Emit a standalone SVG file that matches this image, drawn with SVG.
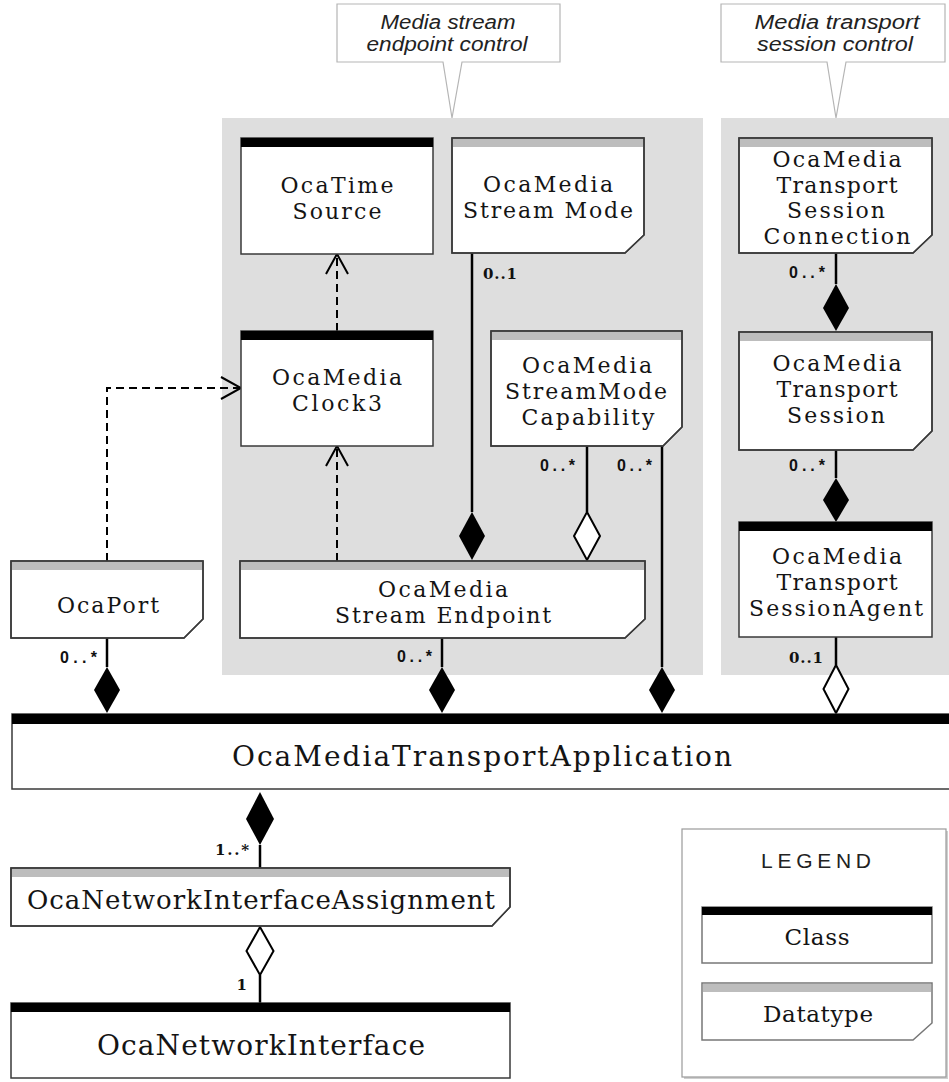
<svg xmlns="http://www.w3.org/2000/svg" width="949" height="1082" viewBox="0 0 949 1082">
  <style>
    .box { fill: #fff; stroke: #3a3a3a; stroke-width: 1.5; }
    .bar-class { fill: #000; }
    .bar-dt { fill: #bdbdbd; }
    .lbl { font-family: "DejaVu Serif", "Liberation Serif", serif; font-size: 22px; fill: #141414; text-anchor: middle; }
    .big { font-size: 28px; }
    .mid { font-size: 26px; }
    .leg { font-size: 23px; }
    .mult { font-family: "Liberation Sans", Arial, sans-serif; font-weight: bold; font-size: 16px; fill: #111; text-anchor: end; }
    .mults { font-family: "DejaVu Serif", serif; font-weight: bold; font-size: 15px; fill: #111; text-anchor: end; }
    .note { fill: #fff; stroke: #b5b5b5; stroke-width: 1.2; }
    .note-txt { font-family: "Liberation Sans", Arial, sans-serif; font-style: italic; font-size: 20px; fill: #222; text-anchor: middle; }
    .panel { fill: #dedede; }
    .wire { stroke: #000; stroke-width: 2.5; fill: none; }
    .dash { stroke: #000; stroke-width: 2; fill: none; stroke-dasharray: 8 5; }
    .comp { fill: #000; }
    .aggr { fill: #fff; stroke: #000; stroke-width: 2; }
    .legend-title { font-family: "Liberation Sans", Arial, sans-serif; font-size: 21px; fill: #222; text-anchor: middle; }
  </style>
  <defs>
    <marker id="open-arrow" viewBox="0 0 24 24" refX="22" refY="12" markerWidth="24" markerHeight="24" orient="auto" markerUnits="userSpaceOnUse">
      <path d="M2,1 L22,12 L2,23" fill="none" stroke="#000" stroke-width="2"/>
    </marker>
  </defs>

  <rect width="949" height="1082" fill="#fff"/>

  <!-- grouping panels -->
  <g id="panels">
    <rect class="panel" x="222" y="118" width="481" height="557"/>
    <rect class="panel" x="721" y="118" width="228" height="557"/>
  </g>

  <!-- callout notes -->
  <g id="note-stream">
    <path class="note" d="M337,4 H560 V62 H462 L452,118 L443,62 H337 Z"/>
    <text class="note-txt" x="448" y="29" textLength="135" lengthAdjust="spacingAndGlyphs">Media stream</text>
    <text class="note-txt" x="447" y="51" textLength="161" lengthAdjust="spacingAndGlyphs">endpoint control</text>
  </g>
  <g id="note-transport">
    <path class="note" d="M721,4 H945 V62 H846 L836,118 L827,62 H721 Z"/>
    <text class="note-txt" x="837" y="29" textLength="165" lengthAdjust="spacingAndGlyphs">Media transport</text>
    <text class="note-txt" x="835" y="51" textLength="156" lengthAdjust="spacingAndGlyphs">session control</text>
  </g>

  <!-- connectors -->
  <g id="connectors">
    <!-- dependencies -->
    <path class="dash" d="M107,561 V388 H241" marker-end="url(#open-arrow)"/>
    <path class="dash" d="M337,331 V254" marker-end="url(#open-arrow)"/>
    <path class="dash" d="M337,561 V446" marker-end="url(#open-arrow)"/>

    <!-- stream mode to endpoint -->
    <path class="wire" d="M472,253 V512"/>
    <polygon class="comp" points="472,512 485,536 472,560 459,536"/>
    <!-- capability to endpoint -->
    <path class="wire" d="M587,446 V512"/>
    <polygon class="aggr" points="587,512 600,536 587,560 574,536"/>
    <!-- capability to application -->
    <path class="wire" d="M662,446 V667"/>
    <polygon class="comp" points="662,667 675,690 662,713 649,690"/>
    <!-- endpoint to application -->
    <path class="wire" d="M442,638 V667"/>
    <polygon class="comp" points="442,667 455,690 442,713 429,690"/>
    <!-- port to application -->
    <path class="wire" d="M107,638 V667"/>
    <polygon class="comp" points="107,667 120,690 107,713 94,690"/>

    <!-- transport session chain -->
    <path class="wire" d="M836,253 V284"/>
    <polygon class="comp" points="836,284 849,308 836,331 823,308"/>
    <path class="wire" d="M836,450 V478"/>
    <polygon class="comp" points="836,478 849,500 836,522 823,500"/>
    <path class="wire" d="M836,637 V665"/>
    <polygon class="aggr" points="836,665 848.5,689 836,713 823.5,689"/>

    <!-- application to network interface assignment -->
    <polygon class="comp" points="260,792 274,819 260,845 246,819"/>
    <path class="wire" d="M260,845 V868"/>
    <!-- assignment to network interface -->
    <polygon class="aggr" points="260,927 273.5,951 260,975 246.5,951"/>
    <path class="wire" d="M260,975 V1003"/>

    <!-- multiplicities -->
    <text class="mults" x="517" y="279" textLength="34" lengthAdjust="spacing">0..1</text>
    <text class="mult" x="825" y="278" textLength="36" lengthAdjust="spacing">0..*</text>
    <text class="mult" x="825" y="471" textLength="36" lengthAdjust="spacing">0..*</text>
    <text class="mults" x="823" y="663" textLength="34" lengthAdjust="spacing">0..1</text>
    <text class="mult" x="575" y="471" textLength="35" lengthAdjust="spacing">0..*</text>
    <text class="mult" x="652" y="471" textLength="35" lengthAdjust="spacing">0..*</text>
    <text class="mult" x="97" y="663" textLength="37" lengthAdjust="spacing">0..*</text>
    <text class="mult" x="432" y="662" textLength="35" lengthAdjust="spacing">0..*</text>
    <text class="mults" x="249" y="855" textLength="34" lengthAdjust="spacing">1..*</text>
    <text class="mults" x="247" y="990">1</text>
  </g>

  <!-- classes and datatypes -->
  <g id="OcaTimeSource">
    <rect class="box" x="241" y="138" width="192" height="116"/>
    <rect class="bar-class" x="241" y="138" width="192" height="9"/>
    <text class="lbl" x="337" y="193" textLength="113" lengthAdjust="spacing">OcaTime</text>
    <text class="lbl" x="337" y="219" textLength="89" lengthAdjust="spacing">Source</text>
  </g>

  <g id="OcaMediaStreamMode">
    <path class="box" d="M452,138 H644 V235 L625,253 H452 Z"/>
    <rect class="bar-dt" x="453" y="139" width="190" height="8"/>
    <path d="M452,138 H644 V235 L625,253 H452 Z" fill="none" stroke="#3a3a3a" stroke-width="1.5"/>
    <text class="lbl" x="548" y="192" textLength="130" lengthAdjust="spacing">OcaMedia</text>
    <text class="lbl" x="548" y="218" textLength="170" lengthAdjust="spacing">Stream Mode</text>
  </g>

  <g id="OcaMediaClock3">
    <rect class="box" x="241" y="331" width="192" height="115"/>
    <rect class="bar-class" x="241" y="331" width="192" height="9"/>
    <text class="lbl" x="337" y="385" textLength="130" lengthAdjust="spacing">OcaMedia</text>
    <text class="lbl" x="337" y="411" textLength="90" lengthAdjust="spacing">Clock3</text>
  </g>

  <g id="OcaMediaStreamModeCapability">
    <path class="box" d="M491,331 H682 V427 L663,446 H491 Z"/>
    <rect class="bar-dt" x="492" y="332" width="189" height="8"/>
    <path d="M491,331 H682 V427 L663,446 H491 Z" fill="none" stroke="#3a3a3a" stroke-width="1.5"/>
    <text class="lbl" x="587" y="373" textLength="130" lengthAdjust="spacing">OcaMedia</text>
    <text class="lbl" x="586" y="399" textLength="162" lengthAdjust="spacing">StreamMode</text>
    <text class="lbl" x="588" y="425" textLength="133" lengthAdjust="spacing">Capability</text>
  </g>

  <g id="OcaMediaStreamEndpoint">
    <path class="box" d="M240,561 H645 V619 L625,638 H240 Z"/>
    <rect class="bar-dt" x="241" y="562" width="403" height="8"/>
    <path d="M240,561 H645 V619 L625,638 H240 Z" fill="none" stroke="#3a3a3a" stroke-width="1.5"/>
    <text class="lbl" x="443" y="597" textLength="130" lengthAdjust="spacing">OcaMedia</text>
    <text class="lbl" x="443" y="623" textLength="216" lengthAdjust="spacing">Stream Endpoint</text>
  </g>

  <g id="OcaPort">
    <path class="box" d="M11,561 H203 V619 L184,638 H11 Z"/>
    <rect class="bar-dt" x="12" y="562" width="190" height="8"/>
    <path d="M11,561 H203 V619 L184,638 H11 Z" fill="none" stroke="#3a3a3a" stroke-width="1.5"/>
    <text class="lbl" x="108" y="613" textLength="102" lengthAdjust="spacing">OcaPort</text>
  </g>

  <g id="OcaMediaTransportSessionConnection">
    <path class="box" d="M739,138 H932 V235 L913,253 H739 Z"/>
    <rect class="bar-dt" x="740" y="139" width="191" height="8"/>
    <path d="M739,138 H932 V235 L913,253 H739 Z" fill="none" stroke="#3a3a3a" stroke-width="1.5"/>
    <text class="lbl" x="837" y="167" textLength="129" lengthAdjust="spacing">OcaMedia</text>
    <text class="lbl" x="837" y="192.7" textLength="121" lengthAdjust="spacing">Transport</text>
    <text class="lbl" x="836" y="218.4" textLength="98" lengthAdjust="spacing">Session</text>
    <text class="lbl" x="837" y="244.1" textLength="147" lengthAdjust="spacing">Connection</text>
  </g>

  <g id="OcaMediaTransportSession">
    <path class="box" d="M739,332 H932 V431 L913,450 H739 Z"/>
    <rect class="bar-dt" x="740" y="333" width="191" height="8"/>
    <path d="M739,332 H932 V431 L913,450 H739 Z" fill="none" stroke="#3a3a3a" stroke-width="1.5"/>
    <text class="lbl" x="837" y="371" textLength="129" lengthAdjust="spacing">OcaMedia</text>
    <text class="lbl" x="837" y="397" textLength="121" lengthAdjust="spacing">Transport</text>
    <text class="lbl" x="836" y="423" textLength="98" lengthAdjust="spacing">Session</text>
  </g>

  <g id="OcaMediaTransportSessionAgent">
    <rect class="box" x="739" y="522" width="193" height="115"/>
    <rect class="bar-class" x="739" y="522" width="193" height="9"/>
    <text class="lbl" x="837" y="564" textLength="130" lengthAdjust="spacing">OcaMedia</text>
    <text class="lbl" x="837" y="590" textLength="121" lengthAdjust="spacing">Transport</text>
    <text class="lbl" x="836" y="616" textLength="174" lengthAdjust="spacing">SessionAgent</text>
  </g>

  <g id="OcaMediaTransportApplication">
    <rect class="box" x="12" y="714" width="945" height="75"/>
    <rect class="bar-class" x="12" y="714" width="945" height="10"/>
    <text class="lbl big" x="482" y="766" textLength="500" lengthAdjust="spacing">OcaMediaTransportApplication</text>
  </g>

  <g id="OcaNetworkInterfaceAssignment">
    <path class="box" d="M11,868 H510 V907 L492,926 H11 Z"/>
    <rect class="bar-dt" x="12" y="869" width="497" height="8"/>
    <path d="M11,868 H510 V907 L492,926 H11 Z" fill="none" stroke="#3a3a3a" stroke-width="1.5"/>
    <text class="lbl mid" x="261" y="909" textLength="468" lengthAdjust="spacing">OcaNetworkInterfaceAssignment</text>
  </g>

  <g id="OcaNetworkInterface">
    <rect class="box" x="11" y="1003" width="499" height="75"/>
    <rect class="bar-class" x="11" y="1003" width="499" height="9"/>
    <text class="lbl big" x="261" y="1055" textLength="328" lengthAdjust="spacing">OcaNetworkInterface</text>
  </g>

  <!-- legend -->
  <g id="legend">
    <rect x="684" y="831" width="264" height="248" fill="#cfcfcf"/>
    <rect x="682" y="829" width="264" height="248" fill="#fff" stroke="#9a9a9a" stroke-width="1.2"/>
    <text class="legend-title" x="816" y="868" textLength="110" lengthAdjust="spacing">LEGEND</text>
    <g id="legend-class">
      <rect class="box" x="702" y="907" width="230" height="56" style="stroke:#777"/>
      <rect class="bar-class" x="702" y="907" width="230" height="8"/>
      <text class="lbl leg" x="817" y="945" textLength="65" lengthAdjust="spacing">Class</text>
    </g>
    <g id="legend-datatype">
      <path class="box" d="M702,983 H932 V1023 L913,1040 H702 Z" style="stroke:#777"/>
      <rect class="bar-dt" x="703" y="984" width="228" height="8"/>
      <text class="lbl leg" x="818" y="1022" textLength="110" lengthAdjust="spacing">Datatype</text>
    </g>
  </g>
</svg>
